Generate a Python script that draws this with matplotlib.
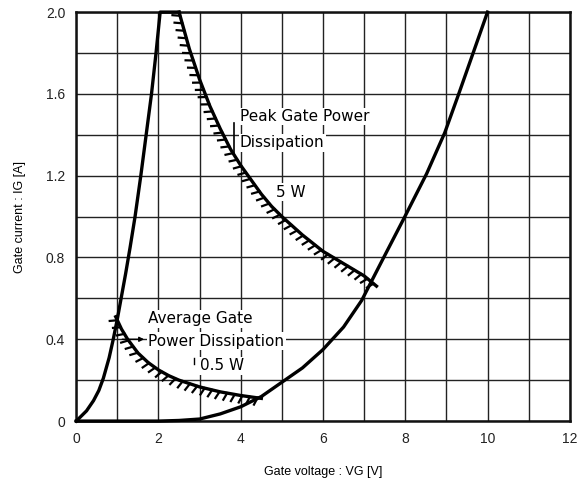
import matplotlib
matplotlib.use("Agg")
import matplotlib.pyplot as plt
import matplotlib.patheffects as pe

# gate characteristic boundaries
x_min = [0, 0.1, 0.25, 0.42, 0.55, 0.66, 0.8, 0.9, 1.0, 1.1, 1.2, 1.31, 1.43, 1.57, 1.70, 1.83, 1.94, 2.04, 2.5]
y_min = [0, 0.02, 0.05, 0.1, 0.15, 0.21, 0.31, 0.40, 0.5, 0.61, 0.72, 0.85, 1.0, 1.2, 1.4, 1.6, 1.8, 2.0, 2.0]

x_max = [0, 2.0, 2.5, 3.0, 3.5, 4.0, 4.5, 5.0, 5.5, 6.0, 6.5, 6.94, 7.45, 7.99, 8.52, 8.96, 9.3, 9.65, 10.0]
y_max = [0, 0, 0.003, 0.01, 0.035, 0.07, 0.12, 0.19, 0.26, 0.35, 0.46, 0.59, 0.79, 1.0, 1.21, 1.41, 1.60, 1.80, 2.0]

# peak gate power 5 W
x_pk = [2.5, 2.75, 3.0, 3.25, 3.5, 3.75, 4.0, 4.25, 4.5, 4.75, 5.0, 5.5, 6.0, 6.5, 7.0, 7.3]
y_pk = [2.0, 1.82, 1.67, 1.54, 1.43, 1.33, 1.25, 1.18, 1.11, 1.05, 1.0, 0.91, 0.83, 0.77, 0.71, 0.66]

# average gate power 0.5 W
x_av = [0.96, 1.1, 1.25, 1.5, 1.75, 2.0, 2.25, 2.5, 3.0, 3.5, 4.0, 4.5]
y_av = [0.51, 0.45, 0.4, 0.333, 0.286, 0.25, 0.222, 0.2, 0.167, 0.143, 0.125, 0.111]

xticks = [0, 2, 4, 6, 8, 10, 12]
yticks = [0, 0.4, 0.8, 1.2, 1.6, 2.0]
ytick_labels = ['0', '0.4', '0.8', '1.2', '1.6', '2.0']

plt.rcParams['font.family'] = ['Liberation Sans', 'DejaVu Sans']

fig = plt.figure(figsize=(5.82, 4.84), dpi=100)
ax = fig.add_axes([0.131, 0.130, 0.848, 0.845])

ax.set_xlim(0, 12)
ax.set_ylim(0, 2.0)
ax.set_xticks(xticks)
ax.set_yticks(yticks)
ax.set_yticklabels(ytick_labels)
ax.set_xticks([i for i in range(13)], minor=True)
ax.set_yticks([i * 0.2 for i in range(11)], minor=True)
ax.grid(which='both', color='#222222', linewidth=1.0)
ax.tick_params(which='both', length=0, labelsize=10, colors='#222222', pad=8)
for s in ax.spines.values():
    s.set_linewidth(1.8)
    s.set_color('#111111')

ax.plot(x_min, y_min, color='black', lw=2.4, clip_on=False, zorder=5)
ax.plot(x_max, y_max, color='black', lw=2.4, clip_on=False, zorder=5)

hatch = [pe.Stroke(linewidth=2.4),
         pe.TickedStroke(spacing=5.5, angle=-110, length=1.0, linewidth=1.6)]
ax.plot(x_pk, y_pk, color='black', lw=2.4, path_effects=hatch, zorder=6, clip_on=False)
ax.plot(x_av, y_av, color='black', lw=2.4, path_effects=hatch, zorder=6)

box = dict(facecolor='white', edgecolor='none', pad=1)
ax.text(3.98, 1.49, 'Peak Gate Power', fontsize=11, family='DejaVu Sans', va='center', bbox=box, zorder=4)
ax.text(3.98, 1.36, 'Dissipation', fontsize=11, family='DejaVu Sans', va='center', bbox=box, zorder=4)
ax.text(4.85, 1.12, '5 W', fontsize=11, family='DejaVu Sans', va='center', bbox=box, zorder=4)
ax.plot([3.84, 3.84], [1.31, 1.46], color='black', lw=1.2, zorder=6)

ax.text(1.75, 0.50, 'Average Gate', fontsize=11, family='DejaVu Sans', va='center', bbox=box, zorder=4)
ax.text(1.75, 0.39, 'Power Dissipation', fontsize=11, family='DejaVu Sans', va='center', bbox=box, zorder=4)
ax.text(3.0, 0.27, '0.5 W', fontsize=11, family='DejaVu Sans', va='center', bbox=box, zorder=4)
ax.plot([2.86, 2.86], [0.28, 0.31], color='black', lw=1.0, zorder=6)
ax.annotate('', xy=(1.72, 0.40), xytext=(1.05, 0.40),
            arrowprops=dict(arrowstyle='-|>', color='black', lw=1.0, mutation_scale=7), zorder=6)

ax.set_xlabel('Gate voltage : VG [V]', fontsize=9, labelpad=14)
ax.set_ylabel('Gate current : IG [A]', fontsize=9, labelpad=14)

fig.savefig('out.png', dpi=100)
